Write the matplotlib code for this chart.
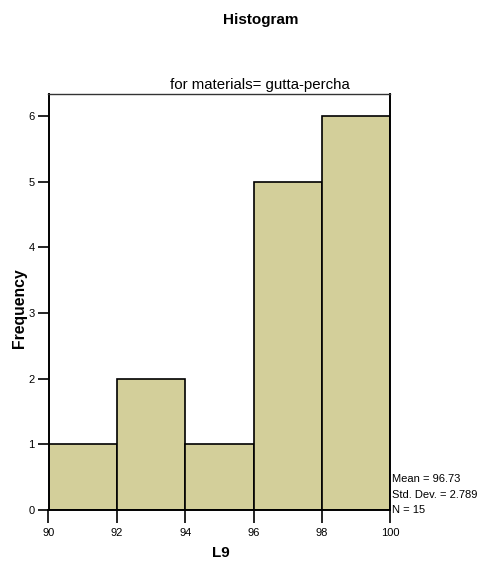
import matplotlib
matplotlib.use("Agg")
import matplotlib.pyplot as plt

plt.rcParams['font.family'] = ['Liberation Sans', 'DejaVu Sans']

bin_edges = [90, 92, 94, 96, 98, 100]
counts = [1, 2, 1, 5, 6]
x_ticks = [90, 92, 94, 96, 98, 100]
y_ticks = [0, 1, 2, 3, 4, 5, 6]
stats_lines = ["Mean = 96.73", "Std. Dev. = 2.789", "N = 15"]

fig = plt.figure(figsize=(4.86, 5.65), dpi=100)
ax = fig.add_axes([48.5/486, 1-510/565, (390.3-48.5)/486, (510-94.3)/565])

lefts = bin_edges[:-1]
widths = [b - a for a, b in zip(bin_edges[:-1], bin_edges[1:])]
ax.bar(lefts, counts, width=widths, align='edge', color='#D3CF9A',
       edgecolor='black', linewidth=1.2, zorder=2)

ax.set_xlim(90, 100)
ax.set_ylim(0, 6.33)
ax.set_xticks(x_ticks)
ax.set_yticks(y_ticks)
ax.tick_params(axis='both', direction='out', length=9, width=1.2, labelsize=8, pad=4)
ax.tick_params(axis='y', length=8, pad=2)

for s in ['left', 'right', 'bottom']:
    ax.spines[s].set_linewidth(1.4)
    ax.spines[s].set_color('black')
ax.spines['top'].set_linewidth(1.0)
ax.spines['top'].set_color('#333333')

fig.text(221/486, 1-553/565, 'L9', ha='center', va='center', fontsize=11, fontweight='bold')
fig.text(20/486, 1-308/565, 'Frequency', ha='center', va='center', rotation=90,
         fontsize=11.3, fontweight='bold')

fig.text(261/486, 1-20/565, 'Histogram', ha='center', va='center', fontsize=11, fontweight='bold')
fig.text(260/486, 1-85/565, 'for materials= gutta-percha', ha='center', va='center', fontsize=10.8)

for i, line in enumerate(stats_lines):
    fig.text(392.5/486, 1-(479 + 15.5*i)/565, line, ha='left', va='center', fontsize=8)

fig.savefig('out.png', dpi=100)
